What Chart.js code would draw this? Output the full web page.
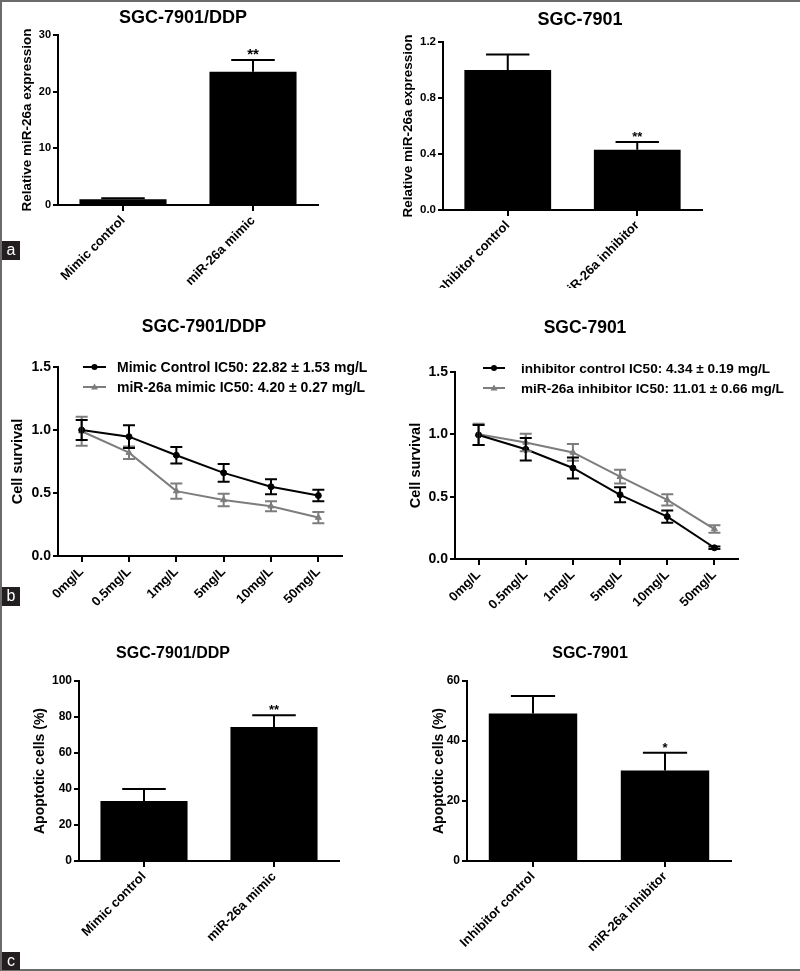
<!DOCTYPE html>
<html>
<head>
<meta charset="utf-8">
<script src="https://cdn.jsdelivr.net/npm/chart.js@4.4.0/dist/chart.umd.min.js"></script>
<style>
  body { margin: 0; background: #fff; }
  #page { position: relative; width: 800px; height: 971px; overflow: hidden; }
  canvas { position: absolute; }
  .frame { position: absolute; left: 0; top: 0; width: 798px; height: 967px; border-top: 2px solid #6b6b6b; border-left: 2px solid #6b6b6b; border-bottom: 2px solid #6b6b6b; z-index: 2; pointer-events: none; }
  .tag { position: absolute; left: 2px; width: 18px; height: 19px; background: #231f20; color: #fff; font: 16px "Liberation Sans", Arial, sans-serif; text-align: center; line-height: 18px; z-index: 3; }
</style>
</head>
<body>
<div id="page">
  <div class="frame"></div>
  <div class="tag" style="top:241px">a</div>
  <div class="tag" style="top:587px">b</div>
  <div class="tag" style="top:952px;height:18px">c</div>
</div>
<script>
// panel a - relative miR-26a expression
const expCatsDDP = ['Mimic control', 'miR-26a mimic'];
const expValsDDP = [1.0, 23.5];
const expErrDDP = [0.2, 2.1];
const expCats7901 = ['Inhibitor control', 'miR-26a inhibitor'];
const expVals7901 = [1.0, 0.43];
const expErr7901 = [0.11, 0.055];

// panel b - cell survival
const doseLabels = ['0mg/L', '0.5mg/L', '1mg/L', '5mg/L', '10mg/L', '50mg/L'];
const mimicCtrlSurv = [1.0, 0.947, 0.80, 0.66, 0.55, 0.48];
const mimicCtrlErr = [0.08, 0.09, 0.065, 0.07, 0.06, 0.045];
const mimicSurv = [0.99, 0.82, 0.515, 0.445, 0.395, 0.305];
const mimicErr = [0.115, 0.05, 0.06, 0.05, 0.04, 0.045];
const inhCtrlSurv = [0.995, 0.88, 0.73, 0.515, 0.34, 0.09];
const inhCtrlErr = [0.08, 0.09, 0.085, 0.06, 0.05, 0.01];
const inhSurv = [1.0, 0.935, 0.855, 0.66, 0.475, 0.24];
const inhErr = [0.085, 0.07, 0.067, 0.055, 0.045, 0.03];

// panel c - apoptotic cells
const apoValsDDP = [33.3, 74.5];
const apoErrDDP = [6.7, 6.5];
const apoVals7901 = [49.2, 30.2];
const apoErr7901 = [5.8, 5.9];

const FONT = '"Liberation Sans", Arial, Helvetica, sans-serif';
const GRAY = '#7d7d7d';
Chart.defaults.font.family = FONT;
Chart.defaults.font.weight = 'bold';
Chart.defaults.color = '#000';
Chart.defaults.animation = false;

function addPanel(p) {
  const [cl, ct, cw, ch] = p.box;
  const canvas = document.createElement('canvas');
  canvas.width = cw;
  canvas.height = ch;
  canvas.style.left = cl + 'px';
  canvas.style.top = ct + 'px';
  document.getElementById('page').appendChild(canvas);

  // fixed axis sizes so the plot area lands where the reference has it
  const yw = p.yGap + p.yTitleSize * 0.6;
  const xh = ct + ch - p.area.b - 2;
  const pad = {
    left: p.area.l - cl - yw,
    top: p.area.t - ct,
    right: cl + cw - p.area.r,
    bottom: 2
  };

  const extras = {
    id: 'extras',
    afterDatasetsDraw(chart) {
      const ctx = chart.ctx, y = chart.scales.y;
      ctx.save();
      for (let i = chart.data.datasets.length - 1; i >= 0; i--) {
        const ds = chart.data.datasets[i];
        const meta = chart.getDatasetMeta(i);
        ctx.strokeStyle = ds.errColor;
        ctx.lineWidth = 2;
        meta.data.forEach(function (el, j) {
          const v = ds.data[j], e = ds.errors[j];
          const top = y.getPixelForValue(v + e);
          const bot = y.getPixelForValue(p.bar ? v : v - e);
          const half = p.bar ? el.width / 4 : 6;
          ctx.beginPath();
          ctx.moveTo(el.x, top); ctx.lineTo(el.x, bot);
          ctx.moveTo(el.x - half, top); ctx.lineTo(el.x + half, top);
          if (!p.bar) { ctx.moveTo(el.x - half, bot); ctx.lineTo(el.x + half, bot); }
          ctx.stroke();
          if (ds.stars && ds.stars[j]) {
            ctx.fillStyle = '#000';
            ctx.font = 'bold ' + p.starSize + 'px ' + FONT;
            ctx.textAlign = 'center';
            ctx.textBaseline = 'alphabetic';
            ctx.fillText(ds.stars[j], el.x, top - 1);
          }
        });
      }
      // title
      ctx.fillStyle = '#000';
      ctx.font = 'bold ' + p.titleSize + 'px ' + FONT;
      ctx.textAlign = 'center';
      ctx.textBaseline = 'middle';
      ctx.fillText(p.title, p.titlePos[0] - cl, p.titlePos[1] - ct);
      // legend
      if (p.legend) {
        const [x1, x2, xt] = p.legendX.map(function (v) { return v - cl; });
        p.legend.forEach(function (it) {
          const ly = it.y - ct;
          ctx.strokeStyle = it.color;
          ctx.fillStyle = it.color;
          ctx.lineWidth = 2;
          ctx.beginPath(); ctx.moveTo(x1, ly); ctx.lineTo(x2, ly); ctx.stroke();
          const mx = (x1 + x2) / 2;
          ctx.beginPath();
          if (it.marker === 'circle') {
            ctx.arc(mx, ly, 3, 0, Math.PI * 2);
          } else {
            ctx.moveTo(mx, ly - 3.5); ctx.lineTo(mx + 3.5, ly + 2.5); ctx.lineTo(mx - 3.5, ly + 2.5); ctx.closePath();
          }
          ctx.fill();
          ctx.fillStyle = '#000';
          ctx.font = 'bold ' + p.legendSize + 'px ' + FONT;
          ctx.textAlign = 'left';
          ctx.textBaseline = 'middle';
          ctx.fillText(it.text, xt, ly + 1);
        });
      }
      ctx.restore();
    }
  };

  new Chart(canvas, {
    type: p.bar ? 'bar' : 'line',
    data: { labels: p.labels, datasets: p.datasets },
    options: {
      responsive: false,
      layout: { padding: pad },
      plugins: { legend: { display: false }, tooltip: { enabled: false } },
      scales: {
        x: {
          offset: true,
          grid: { offset: false, drawOnChartArea: false, color: '#000', lineWidth: 2, tickLength: 6 },
          border: { color: '#000', width: 2 },
          ticks: { minRotation: 45, maxRotation: 45, autoSkip: false, padding: 2, font: { size: p.xFont } },
          afterFit: function (s) { s.height = xh; }
        },
        y: {
          min: 0,
          max: p.yMax,
          grid: { drawOnChartArea: false, color: '#000', lineWidth: 2, tickLength: 5 },
          border: { color: '#000', width: 2 },
          ticks: {
            stepSize: p.yStep,
            padding: 2,
            font: { size: p.yFont },
            callback: function (v) { return p.yDec ? v.toFixed(1) : v; }
          },
          title: { display: true, text: p.yTitle, padding: 0, font: { size: p.yTitleSize } },
          afterFit: function (s) { s.width = yw; }
        }
      }
    },
    plugins: [extras]
  });
}

function barSet(vals, errs, stars) {
  return [{ data: vals, errors: errs, stars: stars, errColor: '#000', backgroundColor: '#000', borderWidth: 0, barPercentage: 0.67, categoryPercentage: 1.0 }];
}
function lineSet(vals, errs, color, style) {
  return { data: vals, errors: errs, errColor: color, borderColor: color, backgroundColor: color, borderWidth: 2, tension: 0, pointStyle: style, pointRadius: style === 'circle' ? 3 : 3.5, pointBorderWidth: 1 };
}

addPanel({
  box: [0, 0, 400, 290], area: { l: 58, t: 35, r: 318, b: 205 }, bar: true,
  labels: expCatsDDP, datasets: barSet(expValsDDP, expErrDDP, ['', '**']),
  yMax: 30, yStep: 10, yDec: false, yFont: 11, xFont: 13,
  yTitle: 'Relative miR-26a expression', yTitleSize: 13.5, yGap: 31,
  title: 'SGC-7901/DDP', titlePos: [183, 18], titleSize: 18, starSize: 15
});
addPanel({
  box: [400, 0, 400, 290], area: { l: 443, t: 42, r: 702, b: 210 }, bar: true,
  labels: expCats7901, datasets: barSet(expVals7901, expErr7901, ['', '**']),
  yMax: 1.2, yStep: 0.4, yDec: true, yFont: 11.5, xFont: 13,
  yTitle: 'Relative miR-26a expression', yTitleSize: 13.5, yGap: 35,
  title: 'SGC-7901', titlePos: [580, 20], titleSize: 18, starSize: 13
});
addPanel({
  box: [0, 290, 400, 330], area: { l: 58, t: 367, r: 342, b: 556 }, bar: false,
  labels: doseLabels,
  datasets: [lineSet(mimicCtrlSurv, mimicCtrlErr, '#000', 'circle'), lineSet(mimicSurv, mimicErr, GRAY, 'triangle')],
  yMax: 1.5, yStep: 0.5, yDec: true, yFont: 14, xFont: 13,
  yTitle: 'Cell survival', yTitleSize: 14.5, yGap: 40,
  title: 'SGC-7901/DDP', titlePos: [204, 327], titleSize: 17.5,
  legendX: [83, 106, 117], legendSize: 14,
  legend: [
    { text: 'Mimic Control IC50: 22.82 \u00b1 1.53 mg/L', color: '#000', marker: 'circle', y: 367 },
    { text: 'miR-26a mimic IC50: 4.20 \u00b1 0.27 mg/L', color: GRAY, marker: 'triangle', y: 387 }
  ]
});
addPanel({
  box: [400, 290, 400, 330], area: { l: 455, t: 372, r: 738, b: 559 }, bar: false,
  labels: doseLabels,
  datasets: [lineSet(inhCtrlSurv, inhCtrlErr, '#000', 'circle'), lineSet(inhSurv, inhErr, GRAY, 'triangle')],
  yMax: 1.5, yStep: 0.5, yDec: true, yFont: 14, xFont: 13,
  yTitle: 'Cell survival', yTitleSize: 14.5, yGap: 39,
  title: 'SGC-7901', titlePos: [585, 328], titleSize: 17.5,
  legendX: [483, 505, 521], legendSize: 13.6,
  legend: [
    { text: 'inhibitor control IC50: 4.34 \u00b1 0.19 mg/L', color: '#000', marker: 'circle', y: 368 },
    { text: 'miR-26a inhibitor IC50: 11.01 \u00b1 0.66 mg/L', color: GRAY, marker: 'triangle', y: 388 }
  ]
});
addPanel({
  box: [0, 620, 400, 350], area: { l: 79, t: 681, r: 339, b: 861 }, bar: true,
  labels: expCatsDDP, datasets: barSet(apoValsDDP, apoErrDDP, ['', '**']),
  yMax: 100, yStep: 20, yDec: false, yFont: 12, xFont: 13,
  yTitle: 'Apoptotic cells (%)', yTitleSize: 14, yGap: 39,
  title: 'SGC-7901/DDP', titlePos: [173, 654], titleSize: 16, starSize: 13
});
addPanel({
  box: [400, 620, 400, 350], area: { l: 467, t: 681, r: 731, b: 861 }, bar: true,
  labels: expCats7901, datasets: barSet(apoVals7901, apoErr7901, ['', '*']),
  yMax: 60, yStep: 20, yDec: false, yFont: 12, xFont: 13,
  yTitle: 'Apoptotic cells (%)', yTitleSize: 14, yGap: 28,
  title: 'SGC-7901', titlePos: [590, 654], titleSize: 16, starSize: 13
});
</script>
</body>
</html>
